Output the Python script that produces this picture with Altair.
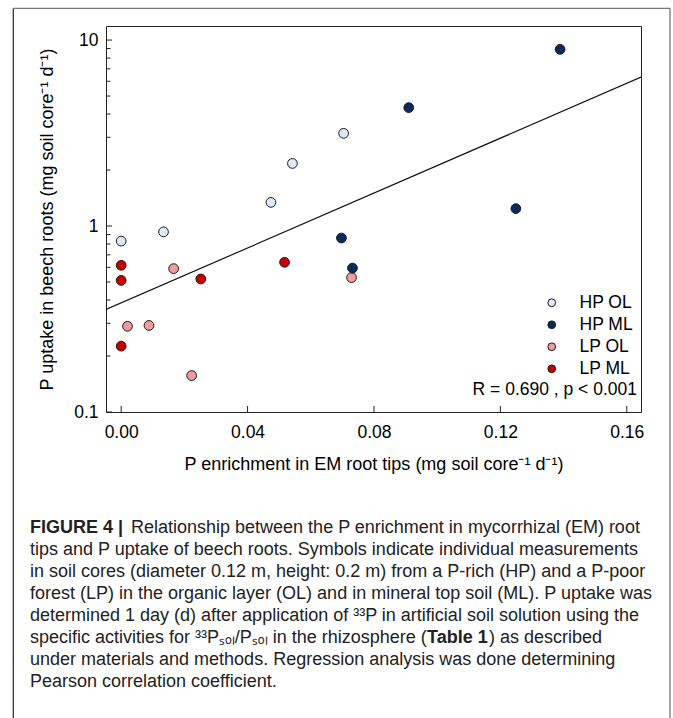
import altair as alt
import pandas as pd

# ---------------- data ----------------
hp_ol_x = [0.0, 0.0134, 0.0474, 0.0542, 0.0704]
hp_ol_y = [0.83, 0.93, 1.34, 2.17, 3.15]
hp_ml_x = [0.0697, 0.0732, 0.0910, 0.1249, 0.1389]
hp_ml_y = [0.862, 0.594, 4.33, 1.24, 8.91]
lp_ol_x = [0.0020, 0.0088, 0.0166, 0.0223, 0.0729]
lp_ol_y = [0.289, 0.292, 0.590, 0.157, 0.528]
lp_ml_x = [0.0, 0.0, 0.0, 0.0252, 0.0517]
lp_ml_y = [0.615, 0.51, 0.226, 0.519, 0.638]

groups = ["HP OL", "HP ML", "LP OL", "LP ML"]
colors = ["#dce9f7", "#0b2a5c", "#f39a9a", "#c80000"]

# regression line endpoints
fit_x = [-0.0048, 0.1645]
fit_y = [0.356, 6.32]

x_ticks = [0.0, 0.04, 0.08, 0.12, 0.16]
y_major = [0.1, 1, 10]
y_minor = [0.2, 0.3, 0.4, 0.5, 0.6, 0.7, 0.8, 0.9, 2, 3, 4, 5, 6, 7, 8, 9]

caption_lines = [
    "tips and P uptake of beech roots. Symbols indicate individual measurements",
    "in soil cores (diameter 0.12 m, height: 0.2 m) from a P-rich (HP) and a P-poor",
    "forest (LP) in the organic layer (OL) and in mineral top soil (ML). P uptake was",
    "determined 1 day (d) after application of \u00b3\u00b3P in artificial soil solution using the",
]
caption_tail = [
    "under materials and methods. Regression analysis was done determining",
    "Pearson correlation coefficient.",
]

# ---------------- tables ----------------
rows = []
for g, xs, ys in [("HP OL", hp_ol_x, hp_ol_y), ("LP OL", lp_ol_x, lp_ol_y),
                  ("LP ML", lp_ml_x, lp_ml_y), ("HP ML", hp_ml_x, hp_ml_y)]:
    for a, b in zip(xs, ys):
        rows.append({"x": a, "y": b, "group": g})
df = pd.DataFrame(rows)
fit_df = pd.DataFrame({"x": fit_x, "y": fit_y})
dummy = pd.DataFrame({"a": [0]})

W, H = 535, 386
FONT = "Liberation Sans"
FS = 17.5
TFS = 18

xscale = alt.Scale(domain=[-0.0048, 0.1645], nice=False, zero=False)
yscale = alt.Scale(type="log", domain=[0.1, 11.9], nice=False)

x_axis = alt.Axis(
    values=x_ticks, format=".2f", ticks=False, domain=False, grid=False,
    labelFont=FONT, labelFontSize=FS, labelColor="black", labelPadding=11,
    title="P enrichment in EM root tips (mg soil core\u207b\u00b9 d\u207b\u00b9)",
    titleFont=FONT, titleFontSize=TFS, titleFontWeight="normal", titleColor="black",
    titleX=W / 2, titleY=52, titleBaseline="middle", titleAlign="center")
y_axis = alt.Axis(
    values=y_major, format="~g", ticks=False, domain=False, grid=False,
    labelFont=FONT, labelFontSize=FS, labelColor="black", labelPadding=8,
    title="P uptake in beech roots (mg soil core\u207b\u00b9 d\u207b\u00b9)",
    titleFont=FONT, titleFontSize=TFS, titleFontWeight="normal", titleColor="black",
    titleAngle=270, titleX=-59, titleY=193, titleBaseline="middle", titleAlign="center")

points = alt.Chart(df).mark_circle(size=95, opacity=1, stroke="#1a1a1a", strokeWidth=1).encode(
    x=alt.X("x:Q", scale=xscale, axis=x_axis),
    y=alt.Y("y:Q", scale=yscale, axis=y_axis),
    color=alt.Color("group:N", scale=alt.Scale(domain=groups, range=colors), legend=alt.Legend(
        title=None, orient="none", legendX=437, legendY=268, padding=0,
        symbolType="circle", symbolSize=60, symbolStrokeWidth=1, symbolStrokeColor="#1a1a1a",
        symbolOpacity=1, labelFont=FONT, labelFontSize=FS, labelColor="black",
        labelOffset=19, rowPadding=3)),
)

fit = alt.Chart(fit_df).mark_line(color="#111", strokeWidth=1.2, clip=True).encode(
    x=alt.X("x:Q", scale=xscale, axis=x_axis), y=alt.Y("y:Q", scale=yscale, axis=y_axis))

xt = alt.Chart(pd.DataFrame({"x": x_ticks})).mark_rule(color="#222", strokeWidth=1).encode(
    x=alt.X("x:Q", scale=xscale, axis=x_axis), y=alt.value(H), y2=alt.value(H - 6))
ytM = alt.Chart(pd.DataFrame({"y": y_major})).mark_rule(color="#222", strokeWidth=1).encode(
    y=alt.Y("y:Q", scale=yscale, axis=y_axis), x=alt.value(0), x2=alt.value(6))
ytm = alt.Chart(pd.DataFrame({"y": y_minor})).mark_rule(color="#222", strokeWidth=1).encode(
    y=alt.Y("y:Q", scale=yscale, axis=y_axis), x=alt.value(0), x2=alt.value(4.5))


def rule(x, y, x2=None, y2=None, color="#555"):
    enc = {"x": alt.value(x), "y": alt.value(y)}
    if x2 is not None:
        enc["x2"] = alt.value(x2)
    if y2 is not None:
        enc["y2"] = alt.value(y2)
    return alt.Chart(dummy).mark_rule(color=color, strokeWidth=1.3).encode(**enc)


def txt(s, x, y, align="left", weight="normal", size=18):
    return alt.Chart(dummy).mark_text(
        align=align, baseline="middle", font=FONT, fontSize=size, fontWeight=weight,
        color="#222").encode(text=alt.value(s), x=alt.value(x), y=alt.value(y))


OX, OY = 106, 26  # plot origin in page pixels
border = [
    rule(13.3 - OX, 8.3 - OY, y2=730 - OY, color="#333"),
    rule(13.3 - OX, 8.3 - OY, x2=670 - OX, color="#777"),
    rule(670 - OX, 8.3 - OY, y2=730 - OY, color="#777"),
]

cx = 30 - OX
ys = [528.3 - OY + i * 21.9 for i in range(8)]
caption = [
    txt("FIGURE 4 |", cx, ys[0], weight="bold"),
    txt("Relationship between the P enrichment in mycorrhizal (EM) root", 131 - OX, ys[0]),
]
for i, line in enumerate(caption_lines):
    caption.append(txt(line, cx, ys[1 + i]))
caption += [
    txt("specific activities for \u00b3\u00b3P\u209b\u2092\u2097/P\u209b\u2092\u2097 in the rhizosphere (", cx, ys[5]),
    txt("Table 1", 427 - OX, ys[5], weight="bold"),
    txt(") as described", 489 - OX, ys[5]),
]
for i, line in enumerate(caption_tail):
    caption.append(txt(line, cx, ys[6 + i]))

rtext = alt.Chart(dummy).mark_text(align="right", baseline="middle", font=FONT, fontSize=FS,
                                   color="black").encode(
    text=alt.value("R = 0.690 , p < 0.001"), x=alt.value(531), y=alt.value(364.3))

chart = alt.layer(fit, xt, ytM, ytm, points, rtext, *border, *caption).properties(
    width=W, height=H,
    padding={"left": OX, "top": OY, "right": 673 - OX - W, "bottom": 718 - OY - H},
    autosize=alt.AutoSizeParams(type="none"),
    background="white",
).configure_view(stroke="#222", strokeWidth=1)

chart.save("out.html", embed_options={"renderer": "svg", "actions": False})
